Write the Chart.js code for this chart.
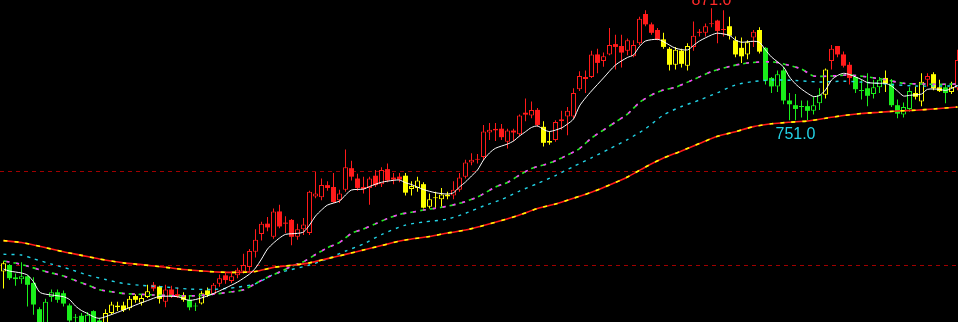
<!DOCTYPE html>
<html>
<head>
<meta charset="utf-8">
<script src="https://cdn.jsdelivr.net/npm/chart.js@4.4.1/dist/chart.umd.min.js"></script>
<style>
  html, body { margin: 0; padding: 0; background: #000; overflow: hidden; }
  #wrap { width: 958px; height: 322px; position: relative; }
</style>
</head>
<body>
<div id="wrap"><canvas id="kline"></canvas></div>
<script>
/* ── candle data (index 0 = leftmost bar) ── */
const opens = [
  593,600,585,585,588,581,553,535,566,571,570,557,544,546,538,551,541,538,549,555,
  557,554,567,560,566,579,577,561,574,569,568,563,556,559,573,569,580,589,583,589,
  593,598,614,633,644,630,657,645,648,630,638,634,673,672,685,683,669,680,703,692,
  683,682,695,686,702,693,694,695,681,682,686,662,671,670,673,674,680,694,709,712,
  715,741,743,745,731,743,739,762,759,765,747,730,733,753,758,758,787,798,800,824,
  817,824,835,833,828,822,836,867,856,850,840,830,813,828,812,832,848,847,856,860,
  850,854,839,831,824,842,850,831,799,790,807,775,770,768,769,764,772,781,817,833,
  824,813,800,785,788,782,789,799,793,770,760,766,783,774,797,803,789,789,784,788
];
const highs = [
  604,601,591,603,589,587,555,564,574,574,573,559,548,549,550,552,544,553,561,561,
  561,567,569,568,579,582,578,579,578,576,571,567,560,572,576,581,590,593,593,597,
  612,617,638,646,651,660,664,652,649,644,650,679,699,692,689,698,680,723,711,697,
  694,694,701,704,708,698,698,698,689,694,688,676,678,682,678,689,698,712,719,718,
  749,751,751,750,745,745,760,777,774,767,753,742,754,764,768,788,806,807,828,830,
  826,852,845,845,841,839,864,871,858,852,847,832,832,830,836,859,851,857,873,861,
  871,864,843,842,839,850,853,832,800,807,811,783,782,775,775,779,788,809,834,833,
  827,816,802,797,804,797,800,807,798,776,773,789,790,804,804,805,797,793,795,829
];
const lows = [
  575,584,578,580,556,547,530,530,561,560,556,535,538,535,535,535,537,535,547,551,
  550,552,560,557,565,572,559,555,565,565,561,552,551,558,566,568,577,580,581,586,
  591,594,608,626,636,628,639,634,621,627,632,632,671,669,679,666,666,678,690,679,
  676,664,683,683,688,686,688,674,674,678,660,660,660,662,670,670,678,692,706,708,
  712,733,732,733,724,732,737,753,756,747,726,728,731,744,738,756,785,783,799,804,
  811,823,808,810,823,821,834,854,845,839,830,807,808,810,807,828,843,843,853,836,
  843,840,821,815,819,832,825,792,783,784,771,754,754,757,754,760,765,777,808,821,
  810,792,783,776,769,777,783,784,768,756,757,763,776,769,790,786,784,772,782,786
];
const closes = [
  602,586,587,588,579,558,537,561,571,563,559,541,545,538,547,538,539,549,558,557,
  552,564,563,565,572,575,564,574,568,566,563,555,557,570,568,579,586,584,588,595,
  600,615,627,644,640,657,641,644,630,638,643,678,676,685,682,667,676,704,694,682,
  681,692,685,701,690,691,691,677,684,690,661,670,672,675,675,680,693,709,712,713,
  742,744,745,736,743,741,759,760,765,749,730,732,752,755,764,783,801,800,824,815,
  822,834,832,826,839,834,862,856,847,840,832,813,829,814,833,844,847,854,857,849,
  851,844,824,822,837,848,827,796,790,803,775,771,766,768.5,764,770,781,808,830,824,
  812,799,787,786,780,789,797,793,770,761,768,785,779,795,801,788,785,783,789,818
];
// trend state of each bar (drives the candle colour)
const trendState = (
  'YGGGGGGGGGGGGGGGGYYYYYYYYRYRRRYGGYYRRRRRRRRRRRRRRRRRRRRRRRRRRRRRRRRYYYYYYYY' +
  'RRRRRRRRRRRRRRRYYRRRRRRRRRRRRRRRRRRYYYYYRRRRRRYYYYRYGGGGGGGGGGYRRRRGGGGGYGGGGYYRYYGYR'
).split('');

/* ── moving averages: [bar index, value] ── */
const maWhite = [
  [0,595.7],[1,593.6],[3,591.5],[4,589.3],[5,582.2],[6,571.3],[7,569],[10,566.3],[11,563.3],[12,556.4],
  [13,551.6],[14,548.4],[15,545],[16,543.3],[18,547.3],[20,552.1],[22,557.4],[24,562.2],[26,566.5],[29,566.3],
  [31,562.4],[33,565],[35,569.7],[37,575.5],[39,581.9],[41,590.4],[42,596.8],[43,606.4],[44,617],[45,623.4],
  [46,628.7],[47,632.6],[49,633.7],[50,635.1],[51,642.5],[52,652.1],[53,658.5],[54,663.8],[56,668.1],[57,674.5],
  [58,679.8],[60,680.8],[61,683.5],[63,688],[65,690.1],[66,690.4],[67,687.6],[68,685.6],[70,680.3],[72,676.9],
  [74,675.5],[75,676.9],[76,683],[77,688.3],[78,694.7],[79,701.1],[80,711.7],[81,719.2],[82,724.2],[84,728.7],
  [85,731.9],[86,737.2],[87,741.8],[88,746.3],[89,747.9],[90,744.2],[91,742],[93,745.8],[94,750],[95,755.3],
  [96,769.2],[97,777.7],[98,785.1],[100,799],[102,812.8],[104,820.8],[105,823.4],[106,832.5],[107,838.3],[109,840.1],
  [110,837.6],[112,830.6],[114,828.8],[115,833.6],[116,838.3],[118,844.7],[119,846.6],[121,844.2],[122,839.4],[123,837],
  [125,838],[126,836.8],[127,828.8],[128,821.3],[130,810.7],[131,800],[132,792.6],[133,787.2],[134,782.7],[135,779.2],
  [136,780.3],[137,786.2],[138,796.8],[139,801.6],[140,803.9],[141,802.6],[143,797.3],[144,794.1],[146,793.3],[147,793.3],
  [148,790.4],[149,785.1],[150,779.8],[151,780.5],[153,781.9],[154,786.9],[156,786.9],[157,785.7],[158,787.8],[159,791]
];
const maMid = [
  [0,604.2],[2,602.1],[4,598.9],[6,595],[8,591.5],[10,588.3],[12,583.5],[14,578.7],[16,573.7],[18,571.6],
  [20,569.7],[22,569.1],[25,568.1],[29,567.3],[32,567.3],[35,568.9],[38,571.5],[40,573.6],[42,580.3],[44,586.9],
  [46,592.5],[48,598.6],[50,603.5],[52,611.2],[54,618.4],[56,624],[58,633.7],[60,638.3],[62,643.8],[64,649.5],
  [66,653.9],[68,656.1],[70,658.5],[73,661.4],[76,665.6],[79,672.3],[82,683],[84,687.8],[86,695.7],[88,702.7],
  [90,706.4],[92,711],[94,717],[96,723.9],[98,735.1],[100,743.6],[102,752.1],[104,760.6],[106,772.9],[108,780.9],
  [110,786.2],[112,789.1],[115,797.3],[118,805.7],[121,811.2],[124,814.9],[127,816.2],[129,815.4],[131,812.3],[133,808.5],
  [135,801.1],[138,801.1],[141,802.1],[144,800],[147,797.1],[150,793.3],[153,792.6],[156,792.2],[159,792.6]
];
const maCyan = [
  [0,611.4],[3,610.6],[5,606.7],[8,601],[11,595.7],[14,589.3],[17,584.6],[20,580.3],[23,578.4],[27,576.6],
  [31,574.4],[35,574.1],[39,576.4],[42,580.1],[45,589.9],[48,595.2],[51,600],[54,606.7],[57,614.9],[60,622.3],
  [63,632.4],[67,642.5],[70,645.7],[74,648.9],[77,655],[80,662.8],[83,669.7],[86,678.7],[89,686.7],[92,695.2],
  [95,704.8],[98,714],[101,723.6],[104,733.5],[107,745],[110,759.6],[113,768.6],[116,775.5],[119,783.3],[122,791.5],
  [125,795.2],[128,796.8],[132,796.3],[136,794.7],[140,795.5],[144,794.2],[148,792],[152,790.4],[156,790.4],[159,790.4]
];
const maLong = [
  [0,626],[3,623.9],[6,619.9],[10,614.1],[13,610.3],[16,606.4],[20,602.3],[23,600.4],[27,597.6],[30,595.2],
  [33,593.6],[36,592.5],[39,592.2],[42,593.2],[45,597.5],[48,599.7],[51,602.3],[54,606.8],[57,611.3],[60,616],
  [63,620.7],[66,625.5],[68,627.6],[71,630.3],[74,634],[77,637.2],[80,642],[83,647.3],[86,653.2],[89,660.1],
  [92,664.9],[95,671],[98,677.4],[101,685.1],[104,693.6],[107,704.3],[110,713.8],[113,721.3],[116,729.3],[119,736.9],
  [122,741.8],[125,747.2],[128,750.2],[131,751.9],[134,753.2],[137,756.1],[140,759.1],[143,761.2],[146,762.5],[149,763.8],
  [152,764.7],[155,766],[159,768.1]
];

const gridLevels = [600, 700];
const peakMark   = { idx: 118, text: '871.0' };
const troughMark = { idx: 132, text: '751.0' };

/* ── styling ── */
const TONE = { R: '#ff1a1a', Y: '#ffff00', G: '#1aee1a' };
const toneOf = i => TONE[trendState[i]] || '#ffffff';
const isUp   = i => closes[i] >= opens[i];

const lineDs = (pts, color, width, dash, dashOffset, order) => ({
  type: 'line',
  data: pts.map(([x, y]) => ({ x, y })),
  borderColor: color,
  borderWidth: width,
  borderDash: dash,
  borderDashOffset: dashOffset || 0,
  pointRadius: 0,
  tension: 0.25,
  fill: false,
  order,
});

/* ── extreme value labels ── */
const markPlugin = {
  id: 'marks',
  afterDatasetsDraw(chart) {
    const { ctx, scales: { x, y } } = chart;
    ctx.save();
    ctx.font = '16px "Liberation Sans", Arial, sans-serif';
    ctx.textAlign = 'center';
    ctx.textBaseline = 'alphabetic';
    ctx.fillStyle = '#ff2a2a';
    ctx.fillText(peakMark.text, x.getPixelForValue(peakMark.idx), y.getPixelForValue(highs[peakMark.idx]) - 3);
    ctx.fillStyle = '#22d3e6';
    ctx.fillText(troughMark.text, x.getPixelForValue(troughMark.idx), y.getPixelForValue(lows[troughMark.idx]) + 19);
    ctx.restore();
  }
};

const xMin = -7 / 12;
new Chart(document.getElementById('kline'), {
  type: 'bar',
  data: {
    datasets: [
      {
        data: lows.map((l, i) => ({ x: i, y: [l, highs[i]] })),
        backgroundColor: lows.map((_, i) => toneOf(i)),
        barThickness: 1, grouped: false, inflateAmount: 0, borderSkipped: false,
        order: 6,
      },
      {
        data: opens.map((o, i) => ({ x: i, y: [o, closes[i]] })),
        backgroundColor: opens.map((_, i) => isUp(i) ? '#000000' : toneOf(i)),
        borderColor: opens.map((_, i) => toneOf(i)),
        borderWidth: opens.map((_, i) => isUp(i) ? 1 : 0),
        barThickness: 5, grouped: false, inflateAmount: 0, borderSkipped: false,
        minBarLength: 1,
        order: 5,
      },
      lineDs(maCyan, '#22d3e6', 1.4, [3, 5], 0, 3),
      lineDs(maMid, '#22ee22', 1.6, [6, 4], 0, 2.5),
      lineDs(maMid, '#ff33ff', 1.6, [3, 7], -3, 2),
      lineDs(maLong, '#ff1a1a', 1.6, [], 0, 1.5),
      lineDs(maLong, '#ffff00', 1.6, [4, 7], 0, 1),
      lineDs(maWhite, '#ffffff', 1, [], 0, 0),
    ]
  },
  options: {
    responsive: true, maintainAspectRatio: false,
    animation: false, events: [],
    layout: { padding: 0, autoPadding: false },
    plugins: { legend: { display: false }, tooltip: { enabled: false }, title: { display: false } },
    scales: {
      x: {
        type: 'linear', display: false, offset: false,
        min: xMin, max: xMin + 958 / 6,
      },
      y: {
        type: 'linear', display: true, beginAtZero: false,
        min: 539.4, max: 881.9,
        afterBuildTicks: s => { s.ticks = gridLevels.map(v => ({ value: v })); },
        ticks: { display: false },
        grid: { color: '#a00000', lineWidth: 1, drawTicks: false },
        border: { display: false, dash: [4, 4] },
      }
    }
  },
  plugins: [markPlugin]
});
</script>
</body>
</html>
